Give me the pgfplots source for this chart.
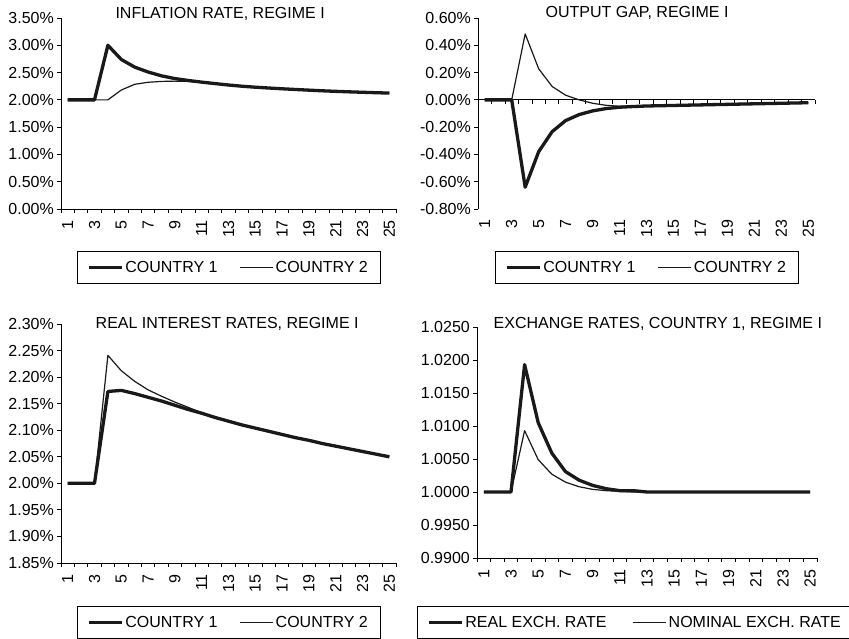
\documentclass[border=0pt]{standalone}
\usepackage{pgfplots}
\pgfplotsset{compat=1.18}
\usepackage{fontspec}
\setmainfont{Liberation Sans}
\newcommand{\fs}{\fontsize{16}{19}\selectfont}

\pgfplotsset{
 every axis title shift=0pt,
 panel/.style={
  scale only axis, anchor=south west,
  axis x line*=bottom, axis y line*=left,
  axis line style={-, line width=0.9pt, black},
  xmin=0.5, xmax=25.5,
  xtick={0.5,1.5,...,25.5}, xticklabels={},
  extra x ticks={1,3,...,25},
  extra x tick labels={1,3,5,7,9,11,13,15,17,19,21,23,25},
  extra x tick style={major tick length=0pt, xticklabel shift=11pt,
     xticklabel style={rotate=90, anchor=east}},
  tick align=outside, major tick length=4pt,
  tick style={black, line width=0.8pt},
  every tick label/.append style={font=\fs, inner sep=0pt},
  yticklabel shift=3pt,
  title style={font=\fs, anchor=base, inner sep=0pt},
  legend columns=2,
  legend style={font=\fs, draw=black, line width=0.8pt, anchor=north,
     at={(rel axis cs:0.5,0)}, yshift=-42pt, inner xsep=10pt, inner ysep=7.5pt,
     /tikz/every even column/.append style={column sep=20pt}},
  legend image code/.code={\draw[##1] (0pt,0pt) -- (33pt,0pt);},
  every axis plot/.append style={black!90, line join=round, mark=none},
  hide obscured x ticks=false, hide obscured y ticks=false,
 },
 thk/.style={line width=3.3pt},
 thn/.style={line width=1.2pt},
}

\begin{document}
\begin{tikzpicture}
\path[use as bounding box] (0pt,0pt) rectangle (849pt,-639pt);

% Panel 1: inflation
\begin{axis}[panel, at={(61pt,-209pt)}, width=335pt, height=191pt,
  ymin=0, ymax=3.5, ytick={0,0.5,...,3.5},
  yticklabels={0.00\%,0.50\%,1.00\%,1.50\%,2.00\%,2.50\%,3.00\%,3.50\%},
  title={INFLATION RATE, REGIME I}, title style={at={(0.475,1)}}]
\addplot[thk] coordinates {(1,2.00)(2,2.00)(3,2.00)(4,3.00)(5,2.74)(6,2.60)(7,2.51)(8,2.44)(9,2.39)(10,2.355)(11,2.325)(12,2.298)(13,2.272)(14,2.25)(15,2.232)(16,2.217)(17,2.203)(18,2.190)(19,2.178)(20,2.166)(21,2.156)(22,2.147)(23,2.139)(24,2.131)(25,2.124)};
\addlegendentry{COUNTRY 1}
\addplot[thn] coordinates {(1,2.00)(2,2.00)(3,2.00)(4,2.00)(5,2.18)(6,2.285)(7,2.322)(8,2.338)(9,2.343)(10,2.338)(11,2.322)(12,2.298)(13,2.272)(14,2.25)(15,2.232)(16,2.217)(17,2.203)(18,2.190)(19,2.178)(20,2.166)(21,2.156)(22,2.147)(23,2.139)(24,2.131)(25,2.124)};
\addlegendentry{COUNTRY 2}
\end{axis}

% Panel 2: output gap
\begin{axis}[panel, at={(478pt,-209pt)}, width=337pt, height=191pt,
  axis x line*=middle, tick align=outside,
  extra x tick style={xticklabel shift=120pt},
  ymin=-0.8, ymax=0.6, ytick={-0.8,-0.6,...,0.61},
  yticklabels={-0.80\%,-0.60\%,-0.40\%,-0.20\%,0.00\%,0.20\%,0.40\%,0.60\%},
  title={OUTPUT GAP, REGIME I}, title style={at={(0.472,1)}},
  legend style={at={(rel axis cs:0.5,0)}}]
\addplot[thk] coordinates {(1,0)(2,0)(3,0)(4,-0.64)(5,-0.38)(6,-0.233)(7,-0.152)(8,-0.108)(9,-0.081)(10,-0.064)(11,-0.054)(12,-0.049)(13,-0.045)(14,-0.043)(15,-0.041)(16,-0.039)(17,-0.037)(18,-0.035)(19,-0.033)(20,-0.031)(21,-0.029)(22,-0.027)(23,-0.025)(24,-0.023)(25,-0.021)};
\addlegendentry{COUNTRY 1}
\addplot[thn] coordinates {(1,0)(2,0)(3,0)(4,0.483)(5,0.228)(6,0.098)(7,0.034)(8,0.0)(9,-0.025)(10,-0.040)(11,-0.047)(12,-0.047)(13,-0.045)(14,-0.043)(15,-0.041)(16,-0.039)(17,-0.037)(18,-0.035)(19,-0.033)(20,-0.031)(21,-0.029)(22,-0.027)(23,-0.025)(24,-0.023)(25,-0.021)};
\addlegendentry{COUNTRY 2}
\end{axis}

% Panel 3: real interest rates
\begin{axis}[panel, at={(61pt,-563pt)}, width=335pt, height=239pt,
  ymin=1.85, ymax=2.30, ytick={1.85,1.90,...,2.31},
  yticklabels={1.85\%,1.90\%,1.95\%,2.00\%,2.05\%,2.10\%,2.15\%,2.20\%,2.25\%,2.30\%},
  title={REAL INTEREST RATES, REGIME I}, title style={at={(0.496,1)}, yshift=-4pt},
  legend style={yshift=-1pt}]
\addplot[thk] coordinates {(1,2.000)(2,2.000)(3,2.000)(4,2.173)(5,2.175)(6,2.169)(7,2.162)(8,2.155)(9,2.147)(10,2.139)(11,2.132)(12,2.124)(13,2.117)(14,2.110)(15,2.104)(16,2.098)(17,2.092)(18,2.086)(19,2.081)(20,2.075)(21,2.070)(22,2.065)(23,2.060)(24,2.055)(25,2.050)};
\addlegendentry{COUNTRY 1}
\addplot[thn] coordinates {(1,2.000)(2,2.000)(3,2.000)(4,2.241)(5,2.212)(6,2.192)(7,2.176)(8,2.164)(9,2.153)(10,2.143)(11,2.133)(12,2.124)(13,2.117)(14,2.110)(15,2.104)(16,2.098)(17,2.092)(18,2.086)(19,2.081)(20,2.075)(21,2.070)(22,2.065)(23,2.060)(24,2.055)(25,2.050)};
\addlegendentry{COUNTRY 2}
\end{axis}

% Panel 4: exchange rates
\begin{axis}[panel, at={(477pt,-558pt)}, width=340pt, height=231pt,
  ymin=0.99, ymax=1.025, ytick={0.99,0.995,...,1.0251},
  yticklabels={0.9900,0.9950,1.0000,1.0050,1.0100,1.0150,1.0200,1.0250},
  title={EXCHANGE RATES, COUNTRY 1, REGIME I}, title style={at={(0.532,1)}, yshift=-1.5pt},
  legend style={xshift=-12pt, yshift=-6pt, /tikz/every even column/.append style={column sep=24pt}}]
\addplot[thk] coordinates {(1,1.0000)(2,1.0000)(3,1.0000)(4,1.0193)(5,1.0105)(6,1.0059)(7,1.0031)(8,1.0018)(9,1.0010)(10,1.0005)(11,1.0002)(12,1.0002)(13,1.0000)(14,1.0000)(15,1.0000)(16,1.0000)(17,1.0000)(18,1.0000)(19,1.0000)(20,1.0000)(21,1.0000)(22,1.0000)(23,1.0000)(24,1.0000)(25,1.0000)};
\addlegendentry{REAL EXCH. RATE}
\addplot[thn] coordinates {(1,1.0000)(2,1.0000)(3,1.0000)(4,1.0093)(5,1.0049)(6,1.0027)(7,1.0015)(8,1.0008)(9,1.0004)(10,1.0002)(11,1.0001)(12,1.0000)(13,1.0000)(14,1.0000)(15,1.0000)(16,1.0000)(17,1.0000)(18,1.0000)(19,1.0000)(20,1.0000)(21,1.0000)(22,1.0000)(23,1.0000)(24,1.0000)(25,1.0000)};
\addlegendentry{NOMINAL EXCH. RATE}
\end{axis}
\end{tikzpicture}
\end{document}
